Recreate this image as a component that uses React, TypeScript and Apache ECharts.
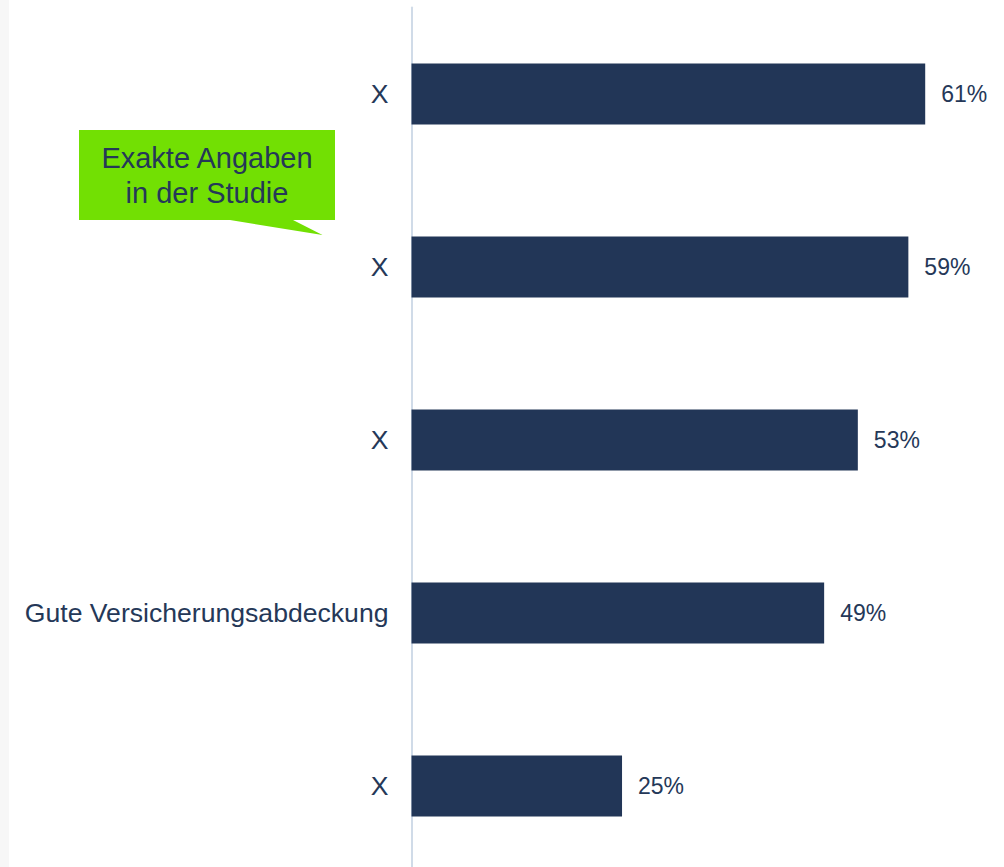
import React, { useEffect, useRef } from "react";
import * as echarts from "echarts";

const categories = ["X", "X", "X", "Gute Versicherungsabdeckung", "X"];
const values = [61, 59, 53, 49, 25];
const calloutText = "Exakte Angaben\nin der Studie";

export default function App() {
  const ref = useRef<HTMLDivElement>(null);
  useEffect(() => {
    if (!ref.current) return;
    const chart = echarts.init(ref.current, undefined, { renderer: "svg" });
    const font = "'Liberation Sans', Arial, sans-serif";
    chart.setOption({
      animation: false,
      backgroundColor: "#ffffff",
      grid: { left: 411.5, right: 3, top: 7.5, bottom: 7.5, containLabel: false },
      xAxis: {
        type: "value",
        min: 0,
        max: 70,
        show: false,
      },
      yAxis: {
        type: "category",
        inverse: true,
        data: categories,
        axisLine: { show: true, lineStyle: { color: "#d0dbe8", width: 2 } },
        axisTick: { show: false },
        splitLine: { show: false },
        axisLabel: {
          margin: 23,
          color: "#253858",
          fontSize: 26.6,
          fontFamily: font,
        },
      },
      series: [
        {
          type: "bar",
          data: values,
          barWidth: 61,
          itemStyle: { color: "#223657" },
          label: {
            show: true,
            position: "right",
            distance: 16,
            formatter: "{c}%",
            color: "#253858",
            fontSize: 23,
            fontFamily: font,
          },
        },
      ],
      graphic: [
        {
          type: "rect",
          shape: { x: 0, y: 0, width: 9, height: 880 },
          style: { fill: "#f7f7f7" },
          silent: true,
        },
        {
          type: "polygon",
          shape: {
            points: [
              [79, 130],
              [335, 130],
              [335, 220],
              [293, 220],
              [322.5, 235],
              [230, 220],
              [79, 220],
            ],
          },
          style: { fill: "#72e003" },
          z: 10,
        },
        {
          type: "text",
          x: 207,
          y: 175,
          z: 11,
          style: {
            text: calloutText,
            fill: "#253858",
            fontSize: 29,
            fontFamily: font,
            lineHeight: 35,
            align: "center",
            verticalAlign: "middle",
          },
        },
      ],
    });
    return () => chart.dispose();
  }, []);
  return (
    <div
      style={{
        position: "absolute",
        left: 0,
        top: 0,
        width: 1004,
        height: 867,
        overflow: "hidden",
        background: "#ffffff",
      }}
    >
      <div ref={ref} style={{ width: 1004, height: 880 }} />
    </div>
  );
}
